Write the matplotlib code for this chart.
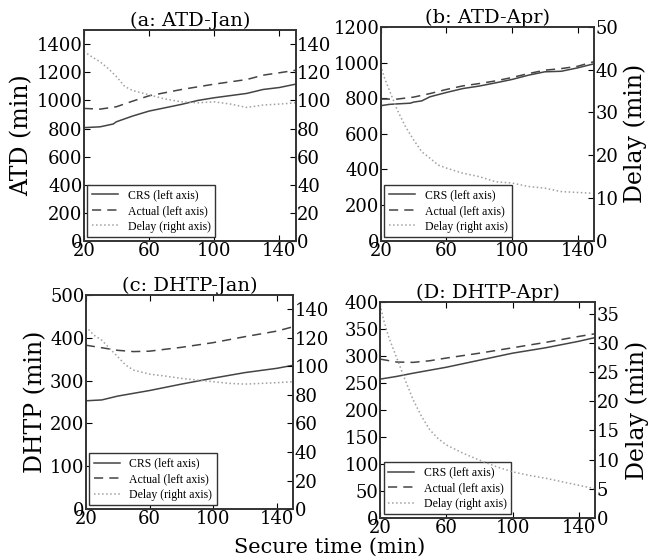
import matplotlib
matplotlib.use('Agg')
import matplotlib.pyplot as plt

# secure time (min) sample points
X_A = [20, 30, 38, 40, 50, 60, 80, 90, 100, 120, 130, 140, 150]
CRS_A = [806, 812, 832, 848, 889, 924, 972, 1000, 1019, 1050, 1078, 1092, 1116]
X_A2 = [20, 30, 40, 50, 60, 80, 100, 120, 130, 140, 150]
ACT_A = [943, 938, 955, 995, 1033, 1078, 1116, 1149, 1180, 1197, 1215]
XD_A = [20, 25, 30, 35, 40, 45, 50, 60, 70, 80, 90, 100, 110, 120, 130, 140, 150]
DELAY_A = [135, 131, 127.5, 122.7, 117, 110, 107, 104, 101, 99, 98.3, 99, 97.4, 95, 96.7, 97.4, 98.3]

X_B = [20, 25, 30, 38, 40, 45, 50, 60, 70, 80, 90, 100, 110, 120, 130, 140, 150]
CRS_B = [758, 765, 768, 772, 778, 785, 808, 832, 854, 868, 886, 905, 929, 948, 951, 970, 993]
X_B2 = [20, 30, 40, 50, 60, 70, 80, 90, 100, 110, 120, 130, 140, 150]
ACT_B = [795, 795, 806, 826, 849, 869, 882, 897, 916, 938, 957, 966, 979, 1005]
XD_B = [20, 22, 25, 30, 35, 40, 45, 50, 55, 60, 70, 80, 90, 100, 110, 120, 130, 140, 150]
DELAY_B = [41, 38.3, 35.4, 30.6, 26.7, 23.6, 20.8, 19.3, 17.7, 17.0, 15.8, 15.0, 13.8, 13.5, 12.7, 12.3, 11.5, 11.3, 11.1]

X_C = [20, 30, 40, 60, 80, 100, 120, 140, 150]
CRS_C = [253, 255, 264, 277, 292, 306, 319, 329, 336]
X_C2 = [20, 30, 40, 50, 60, 80, 100, 120, 140, 150]
ACT_C = [383, 377, 371, 368, 369, 378, 389, 403, 416, 426]
XD_C = [20, 25, 30, 35, 40, 45, 50, 60, 70, 80, 90, 100, 110, 120, 130, 140, 150]
DELAY_C = [128, 122, 118.4, 112.6, 106.8, 101, 97.4, 94.6, 93.2, 91.6, 90.4, 89.3, 88.1, 87.6, 88.1, 88.6, 89.3]

X_D = [20, 30, 40, 60, 80, 100, 120, 140, 150]
CRS_D = [257, 262, 268, 279, 292, 305, 315, 327, 334]
X_D2 = [20, 30, 40, 50, 60, 80, 100, 120, 140, 150]
ACT_D = [294, 288.6, 288, 291, 296, 305, 315, 325, 336, 341]
XD_D = [20, 22, 25, 30, 35, 40, 45, 50, 55, 60, 70, 80, 90, 100, 110, 120, 130, 140, 150]
DELAY_D = [36.5, 34, 31.1, 27.4, 23.7, 20.2, 17.4, 15.1, 13.6, 12.5, 11.1, 9.9, 8.8, 7.9, 7.3, 6.8, 6.2, 5.6, 5.0]

TITLES = ['(a: ATD-Jan)', '(b: ATD-Apr)', '(c: DHTP-Jan)', '(D: DHTP-Apr)']
XTICKS = [20, 60, 100, 140]

plt.rcParams['font.family'] = 'DejaVu Serif'
plt.rcParams['xtick.direction'] = 'in'
plt.rcParams['ytick.direction'] = 'in'

fig = plt.figure(figsize=(6.6, 5.6), dpi=100)

panels = [
    # rect, data, left lim/ticks, right lim/ticks, left label, right label
    ([0.127, 0.570, 0.321, 0.376], (X_A, CRS_A, X_A2, ACT_A, XD_A, DELAY_A),
     (1500, range(0, 1401, 200)), (150, range(0, 141, 20)), 'ATD (min)', None),
    ([0.577, 0.570, 0.323, 0.382], (X_B, CRS_B, X_B2, ACT_B, XD_B, DELAY_B),
     (1200, range(0, 1201, 200)), (50, range(0, 51, 10)), None, 'Delay (min)'),
    ([0.130, 0.091, 0.314, 0.382], (X_C, CRS_C, X_C2, ACT_C, XD_C, DELAY_C),
     (500, range(0, 501, 100)), (150, range(0, 141, 20)), 'DHTP (min)', None),
    ([0.576, 0.075, 0.326, 0.386], (X_D, CRS_D, X_D2, ACT_D, XD_D, DELAY_D),
     (400, range(0, 401, 50)), (37, range(0, 36, 5)), None, 'Delay (min)'),
]

for title, (rect, data, lft, rgt, llab, rlab) in zip(TITLES, panels):
    xc, crs, xa, act, xd, delay = data
    ax = fig.add_axes(rect)
    ax2 = ax.twinx()
    h1, = ax.plot(xc, crs, '-', color='#444444', lw=1.1, label='CRS (left axis)')
    h2, = ax.plot(xa, act, '--', color='#444444', lw=1.1, dashes=(6, 4),
                  label='Actual (left axis)')
    h3, = ax2.plot(xd, delay, ':', color='#a0a0a0', lw=1.1, label='Delay (right axis)')
    ax.set_xlim(20, 150)
    ax.set_ylim(0, lft[0])
    ax.set_yticks(list(lft[1]))
    ax2.set_ylim(0, rgt[0])
    ax2.set_yticks(list(rgt[1]))
    ax.set_xticks(XTICKS)
    ax.tick_params(labelsize=13, top=True, length=4, pad=1)
    ax2.tick_params(labelsize=13, length=4, pad=1)
    for a in (ax, ax2):
        for s in a.spines.values():
            s.set_color('#333333')
            s.set_linewidth(1.2)
    ax.set_title(title, fontsize=14, pad=3)
    if llab:
        ax.set_ylabel(llab, fontsize=17, labelpad=2)
    if rlab:
        ax2.set_ylabel(rlab, fontsize=17, labelpad=4)
    leg = ax.legend(handles=[h1, h2, h3], loc='lower left', fancybox=False,
                    prop={'family': 'Liberation Serif', 'size': 8.5},
                    handlelength=2.2, borderaxespad=0.3, labelspacing=0.3,
                    framealpha=1)
    leg.get_frame().set_edgecolor('#333333')
    leg.set_zorder(5)

fig.text(0.5, 0.005, 'Secure time (min)', ha='center', va='bottom', fontsize=15)

fig.savefig('out.png', dpi=100)
